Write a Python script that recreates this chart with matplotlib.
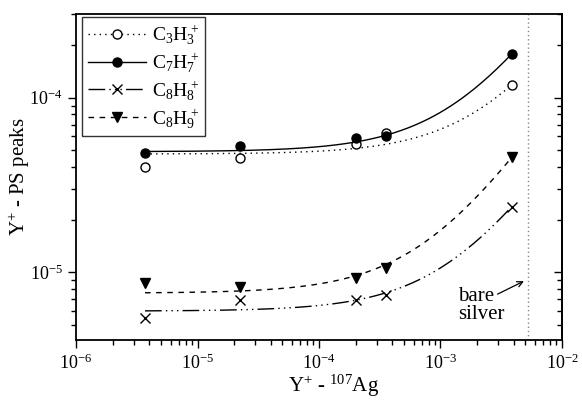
import numpy as np
import matplotlib.pyplot as plt
from matplotlib.ticker import LogLocator, FuncFormatter, NullFormatter

plt.rcParams['font.family'] = ['Liberation Serif', 'DejaVu Serif']
plt.rcParams['mathtext.fontset'] = 'custom'
plt.rcParams['mathtext.rm'] = 'Liberation Serif'
plt.rcParams['mathtext.it'] = 'Liberation Serif:italic'

# Ag+ intensity (x) and hydrocarbon peak intensities
ag = [3.7e-6, 2.25e-5, 2.0e-4, 3.55e-4, 3.85e-3]
c3h3 = [4.0e-5, 4.5e-5, 5.4e-5, 6.3e-5, 1.18e-4]
c7h7 = [4.8e-5, 5.3e-5, 5.9e-5, 6.0e-5, 1.78e-4]
c8h8 = [5.5e-6, 6.9e-6, 6.9e-6, 7.4e-6, 2.35e-5]
c8h9 = [8.7e-6, 8.2e-6, 9.3e-6, 1.06e-5, 4.55e-5]

# linear fits y = a + b*x (intercept, slope)
fit_c3h3 = (4.75e-5, 0.0183)
fit_c7h7 = (4.9e-5, 0.0333)
fit_c8h8 = (6.0e-6, 0.0046)
fit_c8h9 = (7.6e-6, 0.0098)

bare_silver = 5.25e-3

labels = [r'$\mathregular{C_3H_3^{\,+}}$', r'$\mathregular{C_7H_7^{\,+}}$',
          r'$\mathregular{C_8H_8^{\,+}}$', r'$\mathregular{C_8H_9^{\,+}}$']

fig = plt.figure(figsize=(5.82, 4.13), dpi=100)
ax = fig.add_axes([0.1306, 0.1768, 0.835, 0.789])

xs = np.logspace(np.log10(ag[0]), np.log10(ag[-1]), 200)

series = [
    (c3h3, fit_c3h3, dict(marker='o', mfc='white', ls=(0, (1, 3)), lw=1.0)),
    (c7h7, fit_c7h7, dict(marker='o', mfc='black', ls='-', lw=1.0)),
    (c8h8, fit_c8h8, dict(marker='x', mfc='black', ls=(0, (12, 3, 1, 3, 1, 3, 1, 3)), lw=1.0)),
    (c8h9, fit_c8h9, dict(marker='v', mfc='black', ls=(0, (4, 4)), lw=1.0)),
]

for (ys, (a, b), st), lab in zip(series, labels):
    ax.plot(xs, a + b * xs, color='black', ls=st['ls'], lw=st['lw'])
    ax.plot(ag, ys, ls='none', marker=st['marker'], mfc=st['mfc'], mec='black',
            mew=1.0, ms=6.5, color='black')
    # legend proxy: line with marker in the middle
    ax.plot([], [], color='black', ls=st['ls'], lw=st['lw'], marker=st['marker'],
            mfc=st['mfc'], mec='black', ms=6.5, label=lab)

ax.axvline(bare_silver, color='#888888', ls=(0, (1, 2)), lw=1.0)
ax.text(1.96e-3, 7.3e-6, 'bare', fontsize=15, ha='center', va='center')
ax.text(2.15e-3, 5.75e-6, 'silver', fontsize=15, ha='center', va='center')
ax.annotate('', xy=(4.86e-3, 8.9e-6), xytext=(2.95e-3, 7.5e-6),
            arrowprops=dict(arrowstyle='->', color='black', lw=0.9,
                            shrinkA=0, shrinkB=0))

ax.set_xscale('log')
ax.set_yscale('log')
ax.set_xlim(1e-6, 1e-2)
ax.set_ylim(4.1e-6, 3.0e-4)

def pow10(v, pos):
    e = int(round(np.log10(v)))
    return r'$\mathregular{10^{%d}}$' % e

ax.xaxis.set_major_locator(LogLocator(base=10, numticks=10))
ax.yaxis.set_major_locator(LogLocator(base=10, numticks=10))
ax.xaxis.set_major_formatter(FuncFormatter(pow10))
ax.yaxis.set_major_formatter(FuncFormatter(pow10))
ax.xaxis.set_minor_formatter(NullFormatter())
ax.yaxis.set_minor_formatter(NullFormatter())

ax.tick_params(which='both', direction='out', labelsize=13, width=1.0)
ax.tick_params(which='major', length=6)
ax.tick_params(which='minor', length=3.5)

# inward ticks on the right-hand frame
right = ax.secondary_yaxis('right')
right.tick_params(which='both', direction='in', labelright=False, width=1.0)
right.tick_params(which='major', length=6)
right.tick_params(which='minor', length=3.5)
right.yaxis.set_major_formatter(NullFormatter())
right.yaxis.set_minor_formatter(NullFormatter())

for s in ax.spines.values():
    s.set_linewidth(1.3)
right.spines['right'].set_linewidth(1.3)

ax.set_xlabel(r'$\mathregular{Y^{+}}$ - $\mathregular{^{107}Ag}$', fontsize=15, labelpad=6)
ax.xaxis.set_label_coords(0.53, -0.1)
ax.set_ylabel(r'$\mathregular{Y^{+}}$ - PS peaks', fontsize=15, labelpad=4)
ax.yaxis.set_label_coords(-0.09, 0.5)

leg = ax.legend(loc='upper left', bbox_to_anchor=(0.012, 0.99), fontsize=14,
                frameon=True, fancybox=False, edgecolor='black', handlelength=3.0,
                handletextpad=0.3, labelspacing=0.2, borderpad=0.3, borderaxespad=0)
leg.get_frame().set_linewidth(1.0)

fig.savefig('out.png', dpi=100)
